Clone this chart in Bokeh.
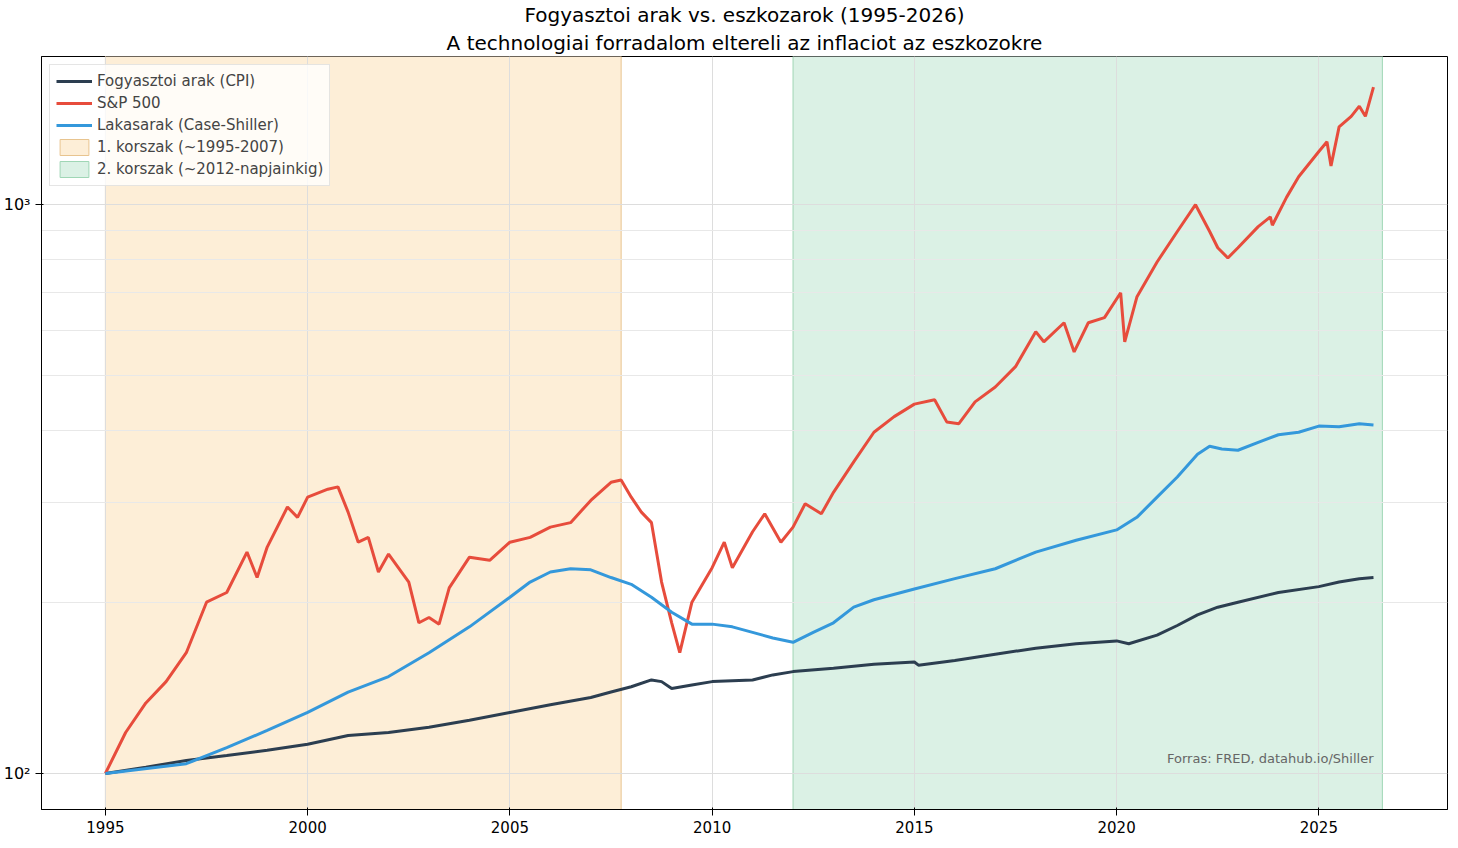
from bokeh.plotting import figure
from bokeh.models import Title, Label, Range1d, Legend, FixedTicker
from bokeh.embed import file_html
from bokeh.resources import INLINE

sp_x = [1995.0,1995.5,1996.0,1996.5,1997.0,1997.5,1998.0,1998.5,1998.75,1999.0,1999.5,1999.75,2000.0,2000.5,2000.75,2001.0,2001.25,2001.5,2001.75,2002.0,2002.5,2002.75,2003.0,2003.25,2003.5,2004.0,2004.5,2005.0,2005.5,2006.0,2006.5,2007.0,2007.5,2007.75,2008.0,2008.25,2008.5,2008.75,2009.0,2009.2,2009.5,2010.0,2010.3,2010.5,2011.0,2011.3,2011.7,2012.0,2012.3,2012.7,2013.0,2013.5,2014.0,2014.5,2015.0,2015.5,2015.8,2016.1,2016.5,2017.0,2017.5,2018.0,2018.2,2018.7,2018.95,2019.3,2019.7,2020.1,2020.2,2020.5,2021.0,2021.5,2021.95,2022.3,2022.5,2022.75,2023.0,2023.5,2023.8,2023.85,2024.2,2024.5,2025.0,2025.2,2025.3,2025.5,2025.8,2026.0,2026.15,2026.35]
sp_v = [100,118,133,145,163,200,208,245,221,250,294,282,306,316,319,288,255,260,226,243,217,184,188,183,212,240,237,255,260,271,276,302,325,328,306,288,276,217,184,163,200,230,255,230,266,286,255,271,298,286,312,353,398,424,446,454,415,412,450,478,519,598,574,620,551,620,633,700,574,688,793,897,1000,897,840,806,840,915,952,920,1030,1120,1240,1290,1170,1370,1430,1490,1430,1610]

hp_x = [1995,1997,1998,1999,2000,2001,2002,2003,2004,2005,2005.5,2006,2006.5,2007,2007.5,2008,2008.5,2009,2009.5,2010,2010.5,2011,2011.5,2012,2012.5,2013,2013.5,2014,2015,2016,2017,2018,2019,2020,2020.5,2021,2021.5,2022,2022.3,2022.6,2023,2023.5,2024,2024.5,2025,2025.5,2026,2026.35]
hp_v = [100,104,111,119,128,139,148,163,181,204,217,226,229,228,221,215,204,192,183,183,181,177,173,170,177,184,196,202,211,220,229,245,257,268,282,306,332,364,376,372,370,382,394,398,408,407,412,410]

cpi_x = [1995,1996,1997,1998,1999,2000,2001,2002,2003,2004,2005,2006,2007,2007.5,2008,2008.5,2008.75,2009,2009.5,2010,2011,2011.5,2012,2013,2014,2015,2015.1,2016,2017,2018,2019,2020,2020.3,2021,2021.5,2022,2022.5,2023,2024,2025,2025.5,2026,2026.35]
cpi_v = [100,102.5,105.4,107.5,109.8,112.5,116.6,118,120.5,124,128,132,136,139,142,146,145,141,143,145,146,149,151,153,155.5,157,155,158,162,166,169,171,169,175,182,190,196,200,208,213,217,220,221]

periods = [("1. korszak (~1995-2007)", 1995.0, 2007.75, "#fdebd0", "#e8c48f"),
           ("2. korszak (~2012-napjainkig)", 2012.0, 2026.57, "#d5efe0", "#9fd6b5")]

y_major = [100, 1000]
y_minor = [200, 300, 400, 500, 600, 700, 800, 900]
y_labels = {100: "10²", 1000: "10³"}

p = figure(width=1450, height=835, y_axis_type="log", output_backend="svg",
           toolbar_location=None, x_range=Range1d(1993.42, 2028.18),
           y_range=Range1d(86.4, 1822), min_border_left=37, min_border_right=3,
           min_border_bottom=26, min_border_top=0)
p.add_layout(Title(text="A technologiai forradalom eltereli az inflaciot az eszkozokre",
                   align="center", text_font_size="20px", text_font_style="normal",
                   text_font="DejaVu Sans", text_color="black", standoff=4), "above")
p.add_layout(Title(text="Fogyasztoi arak vs. eszkozarok (1995-2026)",
                   align="center", text_font_size="20px", text_font_style="normal",
                   text_font="DejaVu Sans", text_color="black", standoff=0), "above")

r1 = p.line(cpi_x, cpi_v, line_color="#2c3e50", line_width=3)
r2 = p.line(sp_x, sp_v, line_color="#e74c3c", line_width=3)
r3 = p.line(hp_x, hp_v, line_color="#3498db", line_width=3)
items = [("Fogyasztoi arak (CPI)", [r1]), ("S&P 500", [r2]), ("Lakasarak (Case-Shiller)", [r3])]
for name, a, b, fc, lc in periods:
    q = p.quad(left=[a], right=[b], bottom=[1], top=[100000], fill_color=fc,
               fill_alpha=0.85, line_color=lc, line_width=1, level="underlay")
    items.append((name, [q]))

leg = Legend(items=items, location="top_left", label_text_font_size="15px",
             label_text_font="DejaVu Sans", border_line_color="#cccccc",
             background_fill_alpha=0.8, spacing=2, padding=6, glyph_height=20,
             glyph_width=36, label_height=20, margin=8)
p.add_layout(leg)

p.add_layout(Label(x=2026.35, y=103, text="Forras: FRED, datahub.io/Shiller",
                   text_align="right", text_font_size="13px", text_color="#666666",
                   text_font="DejaVu Sans"))

p.xaxis.ticker = [1995, 2000, 2005, 2010, 2015, 2020, 2025]
p.yaxis.ticker = FixedTicker(ticks=y_major, minor_ticks=y_minor)
p.yaxis.major_label_overrides = y_labels
p.xgrid.grid_line_color = "#dddddd"
p.ygrid.grid_line_color = "#dddddd"
p.ygrid.minor_grid_line_color = "#e8e8e8"
p.xaxis.major_label_text_font_size = "15px"
p.yaxis.major_label_text_font_size = "16px"
p.axis.major_label_text_color = "black"
p.xaxis.major_label_text_font = "DejaVu Sans"
p.yaxis.major_label_text_font = "DejaVu Sans"
p.xaxis.minor_tick_line_color = None
p.yaxis.minor_tick_line_color = None
p.outline_line_color = "black"
p.axis.axis_line_color = "black"

open("out.html", "w").write(file_html(p, INLINE))
